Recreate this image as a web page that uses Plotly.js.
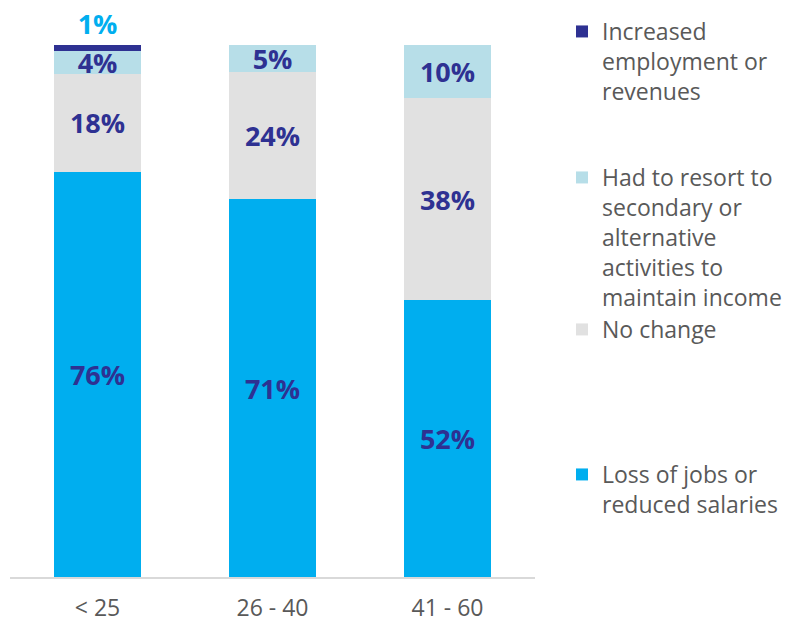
<!DOCTYPE html>
<html>
<head>
<meta charset="utf-8">
<script src="https://cdn.plot.ly/plotly-3.0.1.min.js"></script>
<style>html,body{margin:0;padding:0;background:#fff;}#chart{width:801px;height:624px;}</style>
</head>
<body>
<div id="chart"></div>
<script>
var categories = ['< 25', '26 - 40', '41 - 60'];
var lossOfJobs = [76.2, 71, 52];
var noChange = [18.4, 24, 38];
var secondaryActivities = [4.2, 5, 10];
var increased = [1.2, null, null];

var seriesNames = [
  'Loss of jobs or<br>reduced salaries',
  'No change',
  'Had to resort to<br>secondary or<br>alternative<br>activities to<br>maintain income',
  'Increased<br>employment or<br>revenues'
];
var seriesColors = ['#00AEEF', '#E1E1E1', '#B7DEE8', '#2E3192'];

var labelFont = {family: '"Open Sans", sans-serif', size: 27, color: '#2E3192', weight: 'bold'};

function barTrace(vals, i, legendId, pos, fontColor) {
  return {
    type: 'bar',
    x: categories,
    y: vals,
    name: seriesNames[i],
    legend: legendId,
    marker: {color: seriesColors[i], line: {width: 0}},
    width: 0.5,
    texttemplate: '%{y:.0f}%',
    textposition: pos,
    insidetextanchor: 'middle',
    constraintext: 'none',
    cliponaxis: false,
    textfont: Object.assign({}, labelFont, {color: fontColor || labelFont.color}),
    hoverinfo: 'skip'
  };
}

var data = [
  barTrace(lossOfJobs, 0, 'legend4', 'inside'),
  barTrace(noChange, 1, 'legend3', 'inside'),
  barTrace(secondaryActivities, 2, 'legend2', 'inside'),
  barTrace(increased, 3, 'legend', 'outside', '#00AEEF')
];

var legendFont = {family: '"Open Sans", sans-serif', size: 23, color: '#595959'};
function legendAt(ytop) {
  return {
    x: 562 / 801, xref: 'container', xanchor: 'left',
    y: 1 - ytop / 624, yref: 'container', yanchor: 'top',
    font: legendFont, bgcolor: 'rgba(0,0,0,0)', valign: 'top',
    itemclick: false, itemdoubleclick: false
  };
}

var layout = {
  width: 801, height: 624,
  margin: {l: 10, r: 266, t: 45, b: 47},
  paper_bgcolor: '#ffffff', plot_bgcolor: '#ffffff',
  barmode: 'stack',
  showlegend: true,
  legend: legendAt(10),
  legend2: legendAt(156),
  legend3: legendAt(308),
  legend4: legendAt(453),
  xaxis: {
    type: 'category', range: [-0.5, 2.5],
    showline: true, linecolor: '#D9D9D9', linewidth: 2,
    ticks: '', showgrid: false, zeroline: false,
    tickfont: {family: '"Open Sans", sans-serif', size: 23, color: '#595959'},
    ticklabelstandoff: 9, fixedrange: true
  },
  yaxis: {
    range: [0, 100], visible: false, showgrid: false, zeroline: false, fixedrange: true
  }
};

Plotly.newPlot('chart', data, layout, {displayModeBar: false, staticPlot: true});
</script>
</body>
</html>
